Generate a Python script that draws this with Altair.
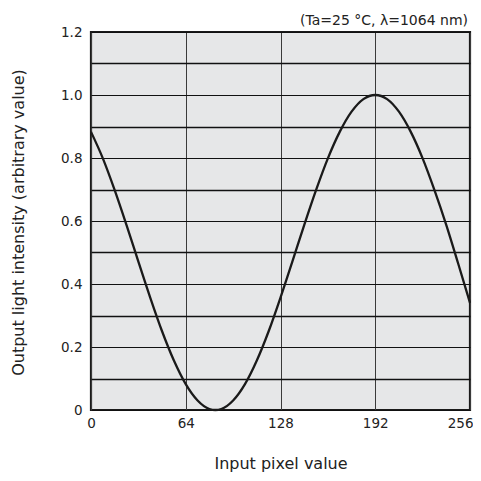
import altair as alt
import pandas as pd

# Values
pixel = [0, 8, 16, 24, 32, 40, 48, 56, 64, 72, 80, 84, 88, 96, 104, 112, 120, 128,
         136, 144, 152, 160, 168, 176, 184, 192, 200, 208, 216, 224, 232, 240, 248, 256]
intensity = [0.883, 0.799, 0.698, 0.587, 0.471, 0.357, 0.250, 0.157, 0.082, 0.030,
             0.003, 0.0, 0.003, 0.030, 0.082, 0.157, 0.250, 0.357, 0.471, 0.587,
             0.698, 0.799, 0.883, 0.947, 0.987, 1.0, 0.987, 0.947, 0.883, 0.799,
             0.698, 0.587, 0.465, 0.340]

x_ticks = [0, 64, 128, 192, 256]
y_ticks = [0, 0.1, 0.2, 0.3, 0.4, 0.5, 0.6, 0.7, 0.8, 0.9, 1.0, 1.1, 1.2]
note = ["(Ta=25 °C, λ=1064 nm)"]

df = pd.DataFrame({"x": pixel, "y": intensity})

FONT = "DejaVu Sans"

line = alt.Chart(df).mark_line(
    color="#1a1a1a", strokeWidth=2.3, interpolate="monotone"
).encode(
    x=alt.X("x:Q", scale=alt.Scale(domain=[0, 256], nice=False),
            axis=alt.Axis(values=x_ticks, title="Input pixel value",
                          labelFont=FONT, labelFontSize=13.5, labelColor="#222",
                          labelPadding=6, ticks=False, domain=False,
                          labelAlign={"condition": {"test": "datum.value == 256", "value": "right"}, "value": "center"},
                          labelOffset={"condition": {"test": "datum.value == 256", "value": 3}, "value": 0},
                          grid=True, gridColor="#3a3a3a", gridWidth=1, gridOpacity=1,
                          titleFont=FONT, titleFontSize=16, titleFontWeight="normal",
                          titleColor="#222", titleY=58, titleBaseline="alphabetic",
                          labelFlush=False)),
    y=alt.Y("y:Q", scale=alt.Scale(domain=[0, 1.2], nice=False),
            axis=alt.Axis(values=y_ticks,
                          title="Output light intensity (arbitrary value)",
                          labelExpr="round(datum.value*10) % 2 == 0 ? (datum.value == 0 ? '0' : format(datum.value, '.1f')) : ''",
                          labelFont=FONT, labelFontSize=13.5, labelColor="#222",
                          labelPadding=9, ticks=False, domain=False,
                          grid=True, gridColor="#111", gridOpacity=1,
                          gridWidth={"condition": {"test": "round(datum.value*10) % 2 == 1", "value": 1.7}, "value": 1.1},
                          titleFont=FONT, titleFontSize=16, titleFontWeight="normal",
                          titleColor="#222", titleX=-68, titleY=190,
                          titleBaseline="alphabetic")),
)

label = alt.Chart(pd.DataFrame({"t": note})).mark_text(
    font=FONT, fontSize=14, color="#222", align="right", baseline="alphabetic"
).encode(
    text="t:N", x=alt.value(377), y=alt.value(-7)
)

chart = alt.layer(line, label).properties(
    width=379, height=378,
    autosize=alt.AutoSizeParams(type="none"),
    padding={"left": 83, "top": 24, "right": 3, "bottom": 63},
).configure_view(
    fill="#e6e7e8", stroke="#1a1a1a", strokeWidth=2.2
)

chart.save("out.html", embed_options={"renderer": "svg", "actions": False})
